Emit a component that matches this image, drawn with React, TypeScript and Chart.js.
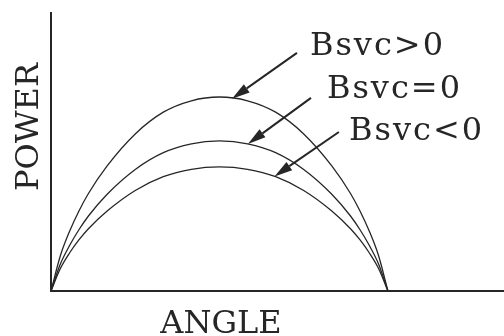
import { useEffect, useRef } from "react";
import { Chart, registerables } from "chart.js";

Chart.register(...registerables);

// Load angle in degrees
const angles = [0, 5, 10, 15, 20, 30, 45, 60, 75, 90, 105, 120, 135, 150, 160, 165, 170, 175, 180];

// Transferred power (per unit of the uncompensated peak)
const powerPositive = [0, 0.235, 0.4, 0.535, 0.65, 0.834, 1.047, 1.192, 1.268, 1.293, 1.268, 1.192, 1.047, 0.834, 0.65, 0.535, 0.4, 0.235, 0];
const powerZero = [0, 0.18, 0.305, 0.41, 0.5, 0.645, 0.81, 0.922, 0.981, 1.0, 0.981, 0.922, 0.81, 0.645, 0.5, 0.41, 0.305, 0.18, 0];
const powerNegative = [0, 0.15, 0.255, 0.342, 0.415, 0.533, 0.67, 0.762, 0.811, 0.827, 0.811, 0.762, 0.67, 0.533, 0.415, 0.342, 0.255, 0.15, 0];

const seriesLabels = ["Bsvc>0", "Bsvc=0", "Bsvc<0"];
const axisTitles = { x: "ANGLE", y: "POWER" };

// Callout placement: label anchor, arrow tail, and the angle where the arrow meets its curve
const calloutLabelAt = [[138.3, 1.573], [147.4, 1.287], [159.2, 1.007]];
const calloutTailAt = [[131.4, 1.587], [138.9, 1.287], [153.8, 1.06]];
const calloutTipAngle = [96.7, 105.2, 119.4];

const INK = "#262626";
const SERIF = '"DejaVu Serif", "Liberation Serif", serif';

function valueOnCurve(series: number[], angle: number): number {
  for (let i = 1; i < angles.length; i++) {
    if (angle <= angles[i]) {
      const t = (angle - angles[i - 1]) / (angles[i] - angles[i - 1]);
      return series[i - 1] + t * (series[i] - series[i - 1]);
    }
  }
  return series[series.length - 1];
}

export default function App() {
  const canvasRef = useRef<HTMLCanvasElement | null>(null);

  useEffect(() => {
    const canvas = canvasRef.current;
    if (!canvas) return;
    const allSeries = [powerPositive, powerZero, powerNegative];

    const annotate = {
      id: "annotate",
      afterDraw(chart: any) {
        const ctx = chart.ctx as CanvasRenderingContext2D;
        const xs = chart.scales.x;
        const ys = chart.scales.y;
        ctx.save();
        ctx.fillStyle = INK;
        ctx.strokeStyle = INK;

        // axis titles
        ctx.font = `32px ${SERIF}`;
        ctx.textAlign = "center";
        ctx.textBaseline = "alphabetic";
        ctx.fillText(axisTitles.x, 221, 333);
        ctx.save();
        ctx.translate(38, 127);
        ctx.rotate(-Math.PI / 2);
        ctx.fillText(axisTitles.y, 0, 0);
        ctx.restore();

        // callouts
        ctx.textAlign = "left";
        (ctx as any).letterSpacing = "2px";
        seriesLabels.forEach((label, i) => {
          const lx = xs.getPixelForValue(calloutLabelAt[i][0]);
          const ly = ys.getPixelForValue(calloutLabelAt[i][1]);
          ctx.fillText(label, lx, ly);

          const tx = xs.getPixelForValue(calloutTailAt[i][0]);
          const ty = ys.getPixelForValue(calloutTailAt[i][1]);
          const a = calloutTipAngle[i];
          const hx = xs.getPixelForValue(a);
          const hy = ys.getPixelForValue(valueOnCurve(allSeries[i], a));
          const ang = Math.atan2(hy - ty, hx - tx);
          const headLen = 18;
          const headHalf = 5;
          const bx = hx - headLen * Math.cos(ang);
          const by = hy - headLen * Math.sin(ang);

          ctx.lineWidth = 2;
          ctx.beginPath();
          ctx.moveTo(tx, ty);
          ctx.lineTo(bx, by);
          ctx.stroke();

          ctx.beginPath();
          ctx.moveTo(hx, hy);
          ctx.lineTo(bx + headHalf * Math.sin(ang), by - headHalf * Math.cos(ang));
          ctx.lineTo(bx - headHalf * Math.sin(ang), by + headHalf * Math.cos(ang));
          ctx.closePath();
          ctx.fill();
        });
        ctx.restore();
      },
    };

    const chart = new Chart(canvas, {
      type: "line",
      data: {
        datasets: allSeries.map((s, i) => ({
          label: seriesLabels[i],
          data: angles.map((a, j) => ({ x: a, y: s[j] })),
          borderColor: INK,
          borderWidth: 1.3,
          pointRadius: 0,
          fill: false,
          cubicInterpolationMode: "monotone" as const,
        })),
      },
      options: {
        responsive: false,
        animation: false,
        events: [],
        layout: { padding: { left: 51, right: 0, top: 13, bottom: 45 } },
        plugins: { legend: { display: false }, tooltip: { enabled: false } },
        scales: {
          x: {
            type: "linear",
            min: 0,
            max: 242,
            grid: { display: false, drawTicks: false },
            ticks: { display: false },
            border: { display: true, color: INK, width: 2 },
          },
          y: {
            type: "linear",
            min: 0,
            max: 1.853,
            grid: { display: false, drawTicks: false },
            ticks: { display: false },
            border: { display: true, color: INK, width: 2 },
          },
        },
      },
      plugins: [annotate],
    });

    return () => chart.destroy();
  }, []);

  return (
    <div style={{ position: "fixed", left: 0, top: 0, width: 504, height: 336, background: "#fff" }}>
      <canvas ref={canvasRef} width={504} height={336} style={{ display: "block" }} />
    </div>
  );
}
